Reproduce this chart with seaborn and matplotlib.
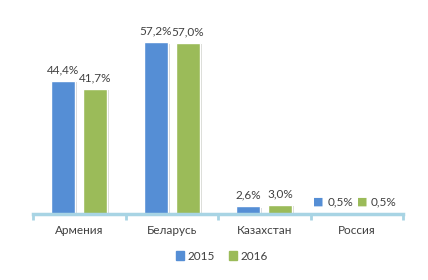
import matplotlib
matplotlib.use("Agg")
import matplotlib.pyplot as plt
import seaborn as sns
import pandas as pd
import matplotlib.patheffects as pe
from matplotlib.patches import Patch

categories = ["Армения", "Беларусь", "Казахстан", "Россия"]
years = ["2015", "2016"]
values_2015 = [44.4, 57.2, 2.6, 0.5]
values_2016 = [41.7, 57.0, 3.0, 0.5]
labels_2015 = ["44,4%", "57,2%", "2,6%", "0,5%"]
labels_2016 = ["41,7%", "57,0%", "3,0%", "0,5%"]

colors = ["#558ED5", "#9BBB59"]
axis_color = "#A8D4E4"
text_color = "#404040"

df = pd.DataFrame({
    "cat": categories * 2,
    "year": [years[0]] * 4 + [years[1]] * 4,
    "val": values_2015 + values_2016,
})

sns.set_style("white")
plt.rcParams["font.family"] = ["Lato", "DejaVu Sans"]

fig = plt.figure(figsize=(4.28, 2.8), dpi=100)
ax = fig.add_axes([33 / 428, 66 / 280, 370 / 428, 180 / 280])

sns.barplot(data=df, x="cat", y="val", hue="year", palette=colors,
            width=0.69, gap=0.25, ax=ax, legend=False, saturation=1)

ax.set_ylim(0, 60)
ax.set_xlim(-0.5, 3.5)
for s in ["top", "right", "left"]:
    ax.spines[s].set_visible(False)
ax.spines["bottom"].set_color(axis_color)
ax.spines["bottom"].set_linewidth(2.5)
ax.set_yticks([])
ax.set_xlabel("")
ax.set_ylabel("")
ax.tick_params(axis="x", which="major", length=0, pad=8, labelsize=8.5, labelcolor=text_color)
ax.set_xticks([-0.5, 0.5, 1.5, 2.5, 3.5], minor=True)
ax.tick_params(axis="x", which="minor", bottom=True, length=4, width=2,
               color=axis_color, direction="out")

shadow = [pe.SimplePatchShadow(offset=(1.5, -1), alpha=0.2), pe.Normal()]

# offsets (points) for the Russia labels with legend-key squares
sq_off = [-16, -7.5]
tx_off = [0, 8]

labels = [labels_2015, labels_2016]
for ci, cont in enumerate(ax.containers):
    for i, bar in enumerate(cont):
        bar.set_path_effects(shadow)
        xc = bar.get_x() + bar.get_width() / 2
        top = bar.get_height()
        if categories[i] == "Россия":
            ax.annotate("■", (xc, top), xytext=(sq_off[ci], 4.5),
                        textcoords="offset points", ha="center", va="bottom",
                        color=colors[ci], fontsize=8, family="DejaVu Sans")
            ax.annotate(labels[ci][i], (xc, top), xytext=(tx_off[ci], 4),
                        textcoords="offset points", ha="center", va="bottom",
                        color=text_color, fontsize=8.5)
        else:
            ax.annotate(labels[ci][i], (xc, top), xytext=(0, 4),
                        textcoords="offset points", ha="center", va="bottom",
                        color=text_color, fontsize=8.5)

handles = [Patch(color=colors[0], label=years[0]), Patch(color=colors[1], label=years[1])]
fig.legend(handles=handles, loc="center", bbox_to_anchor=(222 / 428, 1 - 256 / 280),
           ncol=2, frameon=False, fontsize=8.5, handlelength=0.7, handleheight=0.7,
           handletextpad=0.3, columnspacing=1.2, labelcolor=text_color)

fig.savefig("out.png", dpi=100)
